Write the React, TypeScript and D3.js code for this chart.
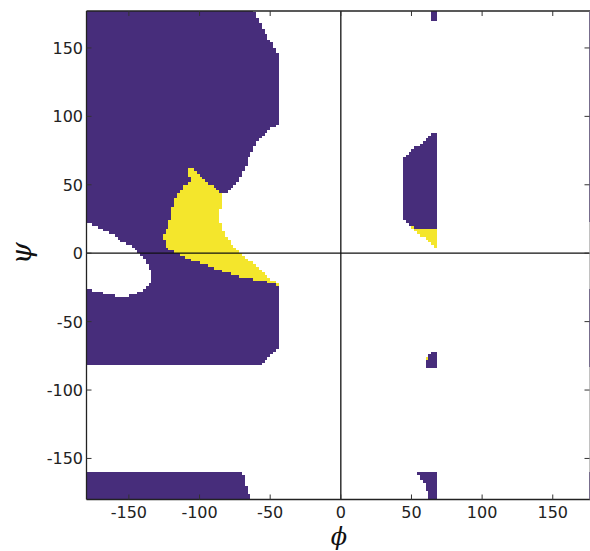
import React, { useMemo } from 'react'
import { scaleLinear, polygonContains, range } from 'd3'

type Pt = [number, number]

// polygons in (phi, psi) degrees
const purpleRegions: Pt[][] = [
  [[-181, 178], [-62.2, 178], [-45.5, 146.6], [-43.6, 145.1], [-43.8, 93.9], [-50.2, 91.7], [-55.2, 86.6],
    [-59.4, 81.5], [-62.9, 73.5], [-66.5, 66.2], [-70, 57.4], [-72.8, 51.5], [-78.5, 46.4], [-83.4, 42.8],
    [-84.1, 36.9], [-85.6, 29.6], [-85.6, 24.5], [-84.1, 17.2], [-82, 13.5], [-78.5, 8.4], [-73.5, 2.6],
    [-69.3, -2.6], [-62.2, -6.9], [-55.2, -13.5], [-48.8, -19.4], [-44.6, -23], [-43.8, -23], [-43.8, -69.1],
    [-58.7, -82.9], [-181, -82.9]],
  [[-181, -159.7], [-70, -159.7], [-65.8, -172.9], [-63.6, -181], [-181, -181]],
  [[44.1, 69.8], [67.7, 89.5], [67.7, 17.2], [52, 18.6], [44.1, 23.8]],
  [[63.5, 178], [67.7, 178], [67.7, 171], [65.5, 169.5], [64, 172]],
  [[60.1, -83.7], [67.7, -83.7], [67.7, -72], [64.5, -72], [60.1, -77]],
  [[53.7, -159.7], [67.7, -159.7], [67.7, -181], [63.6, -181], [61.5, -174.3], [58, -166.8]],
]

const yellowRegions: Pt[][] = [
  [[-107.5, 63.2], [-106.8, 52.3], [-111.7, 48.6], [-113.9, 45], [-117.4, 39.1], [-119.5, 33.3],
    [-120.9, 24.5], [-123.1, 17.2], [-125.9, 12.1], [-123.1, 4.8], [-118.8, 1.1], [-111.7, -2.6],
    [-101.8, -6.2], [-92.6, -9.9], [-83.4, -13.5], [-71.4, -17.2], [-59.4, -19.4], [-48.8, -21.6],
    [-43.8, -23.5], [-44.6, -23], [-48.8, -19.4], [-55.2, -13.5], [-62.2, -6.9], [-69.3, -2.6],
    [-73.5, 2.6], [-78.5, 8.4], [-82, 13.5], [-84.1, 17.2], [-85.6, 24.5], [-85.6, 29.6], [-84.1, 36.9],
    [-83.4, 42.8], [-85.6, 45], [-94.1, 51.5]],
  [[44.1, 23.8], [52, 18.6], [67.7, 17.2], [67.7, 4]],
  [[61, -78], [63, -78], [63, -76], [61, -76]],
]

const whiteHoles: Pt[][] = [
  [[-181, 23], [-175.4, 20.8], [-168.3, 17.2], [-161.2, 13.5], [-154.2, 8.4], [-147.1, 4], [-140.7, -2.6],
    [-136.5, -8.4], [-133.7, -13.5], [-133, -19.4], [-135.1, -23], [-140, -26.7], [-147.1, -30.3],
    [-154.2, -31.8], [-163.4, -30.3], [-172.6, -28.1], [-181, -25.9]],
]

// wrap-around sliver on the right edge (psi ranges)
const edgeStrips: Pt[] = [[23, 177], [-82.9, -25.9], [-180, -159.7]]

const phiTicks = [-150, -100, -50, 0, 50, 100, 150]
const psiTicks = [-150, -100, -50, 0, 50, 100, 150]

const PURPLE = '#472d7b'
const YELLOW = '#f4e62c'

const App = () => {
  const width = 590
  const height = 551
  const phiMax = 176
  const psiMax = 177
  const step = 2

  const x = scaleLinear().domain([-180, phiMax]).range([86.5, 589.5])
  const y = scaleLinear().domain([-180, psiMax]).range([499.5, 11])

  const runs = useMemo(() => {
    const cls = (p: Pt) => {
      if (whiteHoles.some(h => polygonContains(h, p))) return 0
      if (yellowRegions.some(h => polygonContains(h, p))) return 2
      if (purpleRegions.some(h => polygonContains(h, p))) return 1
      return 0
    }
    const cols = range(-180, phiMax, step)
    const rows = range(-180, psiMax, step)
    const out: { p0: number, p1: number, s0: number, s1: number, c: number }[] = []
    rows.forEach(s0 => {
      let cur = 0
      let start = 0
      cols.forEach((p0, i) => {
        const c = cls([p0 + step / 2, s0 + step / 2])
        if (c !== cur) {
          if (cur) out.push({ p0: start, p1: p0, s0, s1: s0 + step, c: cur })
          cur = c
          start = p0
        }
        if (i === cols.length - 1 && cur) out.push({ p0: start, p1: Math.min(p0 + step, phiMax), s0, s1: s0 + step, c: cur })
      })
    })
    return out
  }, [])

  return (
    <svg width={width} height={height} style={{ position: 'absolute', left: 0, top: 0, background: '#fff' }}>
      <g shapeRendering='crispEdges'>
        {runs.map((r, i) => {
          const x0 = Math.round(x(r.p0))
          const x1 = Math.round(x(r.p1))
          const y0 = Math.round(y(Math.min(r.s1, psiMax)))
          const y1 = Math.round(y(r.s0))
          return <rect key={i} x={x0} y={y0} width={x1 - x0} height={y1 - y0} fill={r.c === 2 ? YELLOW : PURPLE} />
        })}
        {edgeStrips.map(([a, b], i) => (
          <rect key={'s' + i} x={x(175.3)} y={y(b)} width={x(phiMax) - x(175.3)} height={y(a) - y(b)} fill={PURPLE} />
        ))}
      </g>

      {/* zero lines */}
      <line x1={x(0)} x2={x(0)} y1={y(psiMax)} y2={y(-180)} stroke='#111' strokeWidth={1.3} />
      <line x1={x(-180)} x2={x(phiMax)} y1={y(0)} y2={y(0)} stroke='#111' strokeWidth={1.3} />

      {/* spines */}
      <line x1={x(-180)} x2={width} y1={y(psiMax)} y2={y(psiMax)} stroke='#222' strokeWidth={1.3} />
      <line x1={x(-180)} x2={width} y1={y(-180)} y2={y(-180)} stroke='#222' strokeWidth={1.3} />
      <line x1={x(-180)} x2={x(-180)} y1={y(psiMax)} y2={y(-180)} stroke='#222' strokeWidth={1.3} />
      <line x1={x(phiMax)} x2={x(phiMax)} y1={y(psiMax)} y2={y(-180)} stroke='#999' strokeWidth={0.6} />

      {phiTicks.map(t => (
        <g key={'x' + t} transform={`translate(${x(t)},0)`}>
          <line y1={y(-180)} y2={y(-180) - 5} stroke='#333' />
          <line y1={y(psiMax)} y2={y(psiMax) + 5} stroke='#333' />
          <text y={518} textAnchor='middle' fontFamily='DejaVu Sans' fontSize={16} fill='#222'>{t}</text>
        </g>
      ))}
      {psiTicks.map(t => (
        <g key={'y' + t} transform={`translate(0,${y(t)})`}>
          <line x1={x(-180)} x2={x(-180) + 5} stroke='#333' />
          <line x1={x(phiMax)} x2={x(phiMax) - 5} stroke='#333' />
          <text x={83} y={6} textAnchor='end' fontFamily='DejaVu Sans' fontSize={16} fill='#222'>{t}</text>
        </g>
      ))}

      <text x={x(0) - 2} y={545} textAnchor='middle' fontFamily='DejaVu Serif' fontStyle='italic' fontSize={24} fill='#111'>ϕ</text>
      <text transform={`translate(31,${y(0)}) rotate(-90)`} textAnchor='middle' fontFamily='DejaVu Serif' fontStyle='italic' fontSize={28} fill='#111'>ψ</text>
    </svg>
  )
}

export default App
